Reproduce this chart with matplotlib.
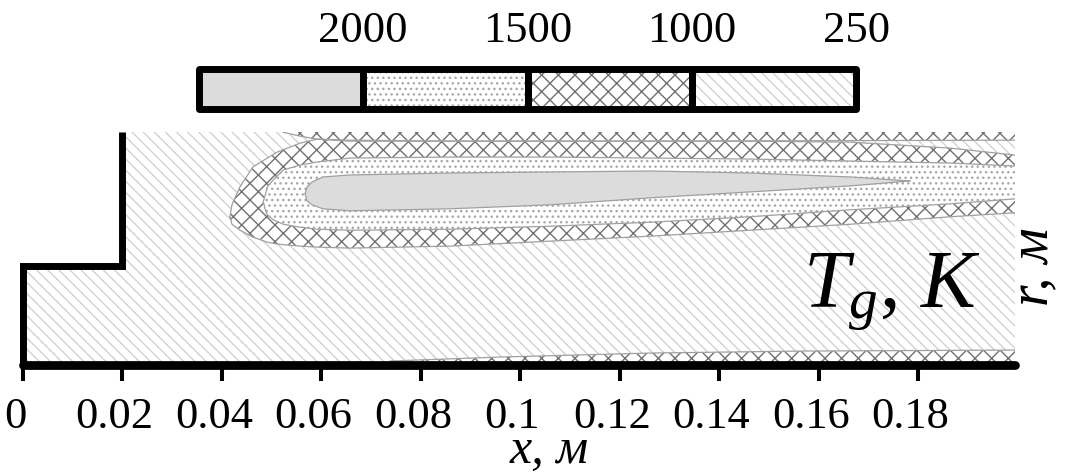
import numpy as np
import matplotlib
matplotlib.use("Agg")
import matplotlib.pyplot as plt
from matplotlib.patches import Rectangle
from matplotlib.transforms import ScaledTranslation

# geometry of the chamber, m
x_max = 0.1994
r_max = 0.0469
wall_x = [0.0, 0.0, 0.02, 0.02]
wall_r = [0.0, 0.02, 0.02, r_max]

# isotherm 1000 K (flame, outer edge)
x1000 = [0.0416, 0.0420, 0.0436, 0.0462, 0.0491, 0.0511, 0.0557, 0.0591, 0.0657,
         0.0858, 0.1060, 0.1261, 0.1462, 0.1663, 0.1864, 0.1994]
top1000 = [0.0298, 0.0322, 0.0358, 0.0398, 0.0416, 0.0428, 0.0446, 0.0454, 0.0452,
           0.0450, 0.0450, 0.0450, 0.0450, 0.0448, 0.0436, 0.0422]
bot1000 = [0.0298, 0.0283, 0.0271, 0.0257, 0.0247, 0.0243, 0.0239, 0.0237, 0.0235,
           0.0239, 0.0249, 0.0259, 0.0271, 0.0283, 0.0298, 0.0306]

# isotherm 1500 K
x1500 = [0.0483, 0.0487, 0.0491, 0.0503, 0.0523, 0.0557, 0.0591, 0.0657, 0.0858,
         0.1060, 0.1261, 0.1462, 0.1663, 0.1864, 0.1994]
top1500 = [0.0328, 0.0342, 0.0358, 0.0372, 0.0392, 0.0402, 0.0408, 0.0416, 0.0418,
           0.0418, 0.0416, 0.0414, 0.0410, 0.0406, 0.0400]
bot1500 = [0.0328, 0.0312, 0.0302, 0.0292, 0.0283, 0.0277, 0.0273, 0.0271, 0.0273,
           0.0279, 0.0287, 0.0298, 0.0312, 0.0324, 0.0334]

# isotherm 2000 K
x2000 = [0.0567, 0.0571, 0.0581, 0.0603, 0.0657, 0.0858, 0.1060, 0.1261, 0.1462,
         0.1663, 0.1783]
top2000 = [0.0344, 0.0358, 0.0368, 0.0378, 0.0382, 0.0386, 0.0388, 0.0390, 0.0386,
           0.0378, 0.0370]
bot2000 = [0.0344, 0.0330, 0.0322, 0.0314, 0.0310, 0.0314, 0.0322, 0.0336, 0.0348,
           0.0360, 0.0370]

# hot layer along the upper wall (1000 K)
x_topband = [0.0523, 0.0557, 0.0591, 0.0657, 0.1261, 0.1994]
low_topband = [0.0468, 0.0460, 0.0454, 0.0450, 0.0450, 0.0452]

# thin layer along the lower boundary (1000 K)
x_botband = [0.0738, 0.0959, 0.1261, 0.1562, 0.1994]
up_botband = [0.0008, 0.0016, 0.0024, 0.0028, 0.0030]

# legend bar
bar_labels = ["2000", "1500", "1000", "250"]
bar_hatches = [None, "...", "xx", "\\\\\\"]
bar_faces = ["#dcdcdc", "white", "white", "white"]
bar_hatch_colors = ["#dcdcdc", "#a8a8a8", "#707070", "#d2d2d2"]

x_ticks = [0, 0.02, 0.04, 0.06, 0.08, 0.1, 0.12, 0.14, 0.16, 0.18]
x_ticklabels = ["0", "0.02", "0.04", "0.06", "0.08", "0.1", "0.12", "0.14", "0.16", "0.18"]

plt.rcParams['font.family'] = ['Liberation Serif', 'DejaVu Serif']
plt.rcParams['mathtext.fontset'] = 'custom'
plt.rcParams['mathtext.it'] = 'Liberation Serif:italic'
plt.rcParams['mathtext.rm'] = 'Liberation Serif'
plt.rcParams['hatch.linewidth'] = 1.0

line_col = "#a0a0a0"

fig = plt.figure(figsize=(10.68, 4.75), dpi=100)
ax = fig.add_axes([23 / 1068, 110 / 475, 992 / 1068, 233.3 / 475])
ax.set_xlim(0, x_max)
ax.set_ylim(0, r_max)

# background 250..1000 K
ax.fill_between([0, 0.02, 0.02, x_max], 0, [0.02, 0.02, r_max, r_max],
                facecolor="white", edgecolor=bar_hatch_colors[3], hatch=bar_hatches[3], linewidth=0)

# 1000..1500 K
ax.fill_between(x_topband, low_topband, r_max, facecolor="white",
                edgecolor=bar_hatch_colors[2], hatch=bar_hatches[2], linewidth=0)
ax.fill_between(x1000, bot1000, top1000, facecolor="white",
                edgecolor=bar_hatch_colors[2], hatch=bar_hatches[2], linewidth=0)
ax.fill_between(x_botband, 0, up_botband, facecolor="white",
                edgecolor=bar_hatch_colors[2], hatch=bar_hatches[2], linewidth=0)
# 1500..2000 K
ax.fill_between(x1500, bot1500, top1500, facecolor="white",
                edgecolor=bar_hatch_colors[1], hatch=bar_hatches[1], linewidth=0)
# > 2000 K
ax.fill_between(x2000, bot2000, top2000, facecolor=bar_faces[0], linewidth=0)

for xs, ys in [(x1000, top1000), (x1000, bot1000), (x1500, top1500), (x1500, bot1500),
               (x2000, top2000), (x2000, bot2000), (x_topband, low_topband),
               (x_botband, up_botband)]:
    ax.plot(xs, ys, color=line_col, lw=0.9)

# walls
ax.plot(wall_x, wall_r, color="black", lw=5, solid_capstyle="butt",
        solid_joinstyle="miter", clip_on=False)

for s in ["left", "right", "top"]:
    ax.spines[s].set_visible(False)
ax.spines["bottom"].set_linewidth(6.3)
ax.spines["bottom"].set_capstyle("round")
ax.set_yticks([])
ax.set_xticks(x_ticks)
ax.set_xticklabels(x_ticklabels, fontsize=32)
ax.tick_params(axis="x", direction="out", length=11.5, width=2.9, pad=11.5)
shift = ScaledTranslation(-8 / 100, 0, fig.dpi_scale_trans)
for lab in ax.get_xticklabels():
    lab.set_transform(lab.get_transform() + shift)

ax.text(0.1568, 0.01166, r"$T_g$, $K$", fontsize=59, ha="left", va="baseline")
fig.text(549 / 1068, 12 / 475, "x, м", fontsize=36, style="italic",
         ha="center", va="baseline")
fig.text(1034 / 1068, 208 / 475, "r, м", fontsize=40, style="italic",
         rotation=90, ha="center", va="center")

# legend bar
cax = fig.add_axes([198.5 / 1068, 366.5 / 475, 658 / 1068, 40 / 475])
cax.set_xlim(0, 4)
cax.set_ylim(0, 1)
cax.axis("off")
for i in range(4):
    cax.add_patch(Rectangle((i, 0), 1, 1, facecolor=bar_faces[i], edgecolor=bar_hatch_colors[i],
                            hatch=bar_hatches[i], linewidth=0))
for i in range(4):
    cax.add_patch(Rectangle((i, 0), 1, 1, facecolor="none", edgecolor="black",
                            linewidth=5, joinstyle="round", clip_on=False))
for i, lab in enumerate(bar_labels):
    cax.text(i + 1, 1.66, lab, fontsize=32, ha="center", va="baseline",
             transform=cax.get_xaxis_transform())

fig.savefig("out.png", dpi=100)
